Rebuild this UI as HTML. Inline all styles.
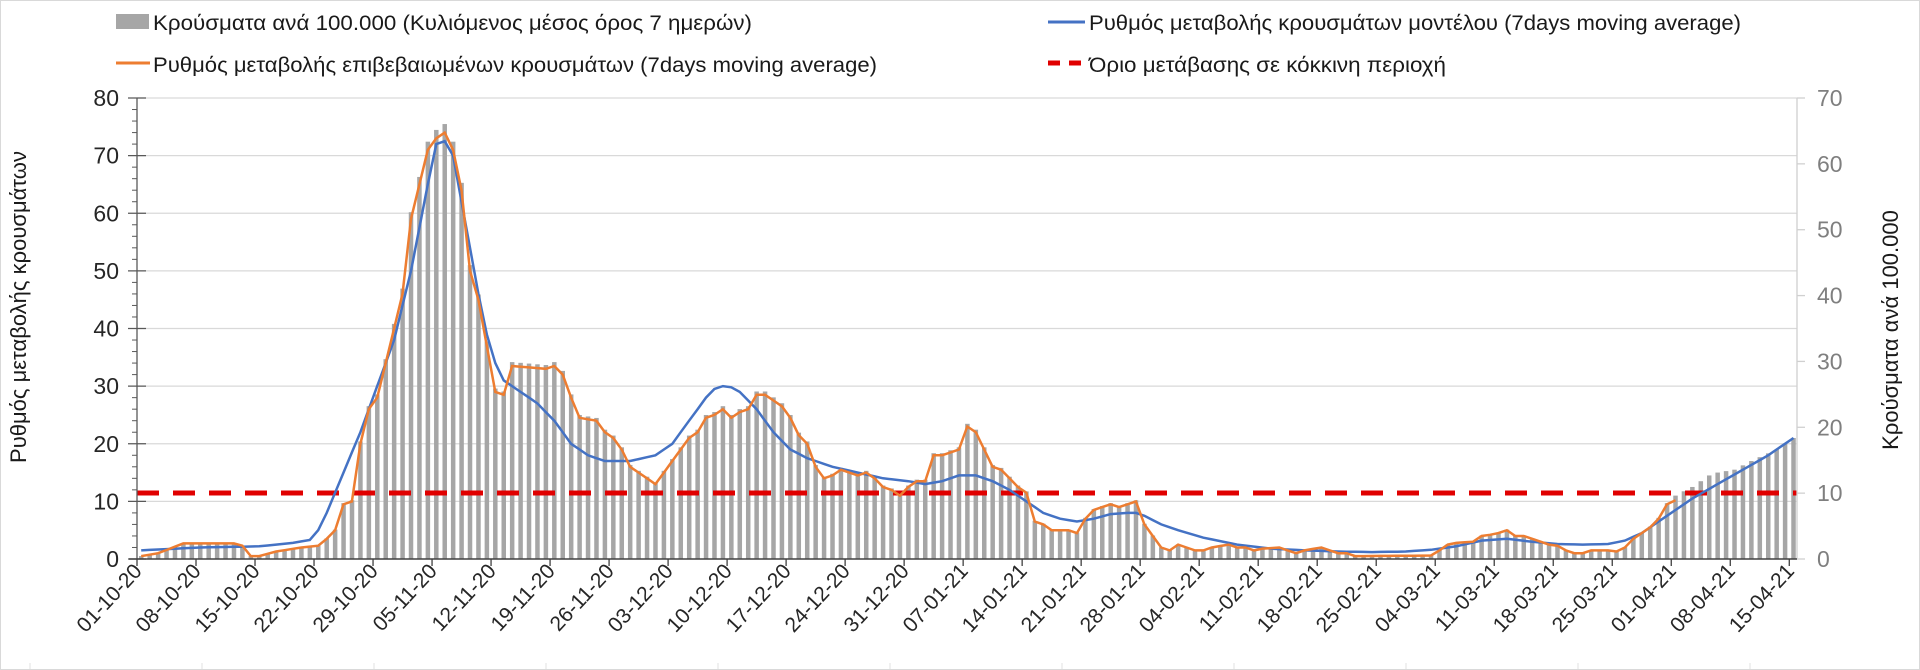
<!DOCTYPE html>
<html><head><meta charset="utf-8"><style>
html,body{margin:0;padding:0;background:#fff;}
svg{display:block;font-family:"Liberation Sans",sans-serif;}
</style></head><body>
<svg id="s" width="1920" height="670" xmlns="http://www.w3.org/2000/svg">
<rect x="0.5" y="0.5" width="1919" height="669" fill="#fff" stroke="#d9d9d9"/>
<g id="grid"></g>
<g id="bars" fill="#a6a6a6"></g>
<line x1="137" y1="493" x2="1797" y2="493" stroke="#e00000" stroke-width="5" stroke-dasharray="22,14"/>
<polyline id="blue" fill="none" stroke="#4472c4" stroke-width="2.5"/>
<polyline id="orange" fill="none" stroke="#ed7d31" stroke-width="2.5"/>
<g id="axes"></g>
<g font-size="21" fill="#1a1a1a">
<rect x="116" y="14" width="33" height="15" fill="#a6a6a6"/>
<text x="153" y="30" textLength="599" lengthAdjust="spacingAndGlyphs">Κρούσματα ανά 100.000 (Κυλιόμενος μέσος όρος 7 ημερών)</text>
<line x1="116" y1="63" x2="150" y2="63" stroke="#ed7d31" stroke-width="3"/>
<text x="153" y="72" textLength="724" lengthAdjust="spacingAndGlyphs">Ρυθμός μεταβολής επιβεβαιωμένων κρουσμάτων (7days moving average)</text>
<line x1="1048" y1="22" x2="1085" y2="22" stroke="#4472c4" stroke-width="3"/>
<text x="1089" y="30" textLength="652" lengthAdjust="spacingAndGlyphs">Ρυθμός μεταβολής κρουσμάτων μοντέλου (7days moving average)</text>
<line x1="1048" y1="63" x2="1085" y2="63" stroke="#e00000" stroke-width="5" stroke-dasharray="12,9"/>
<text x="1089" y="72" textLength="357" lengthAdjust="spacingAndGlyphs">Όριο μετάβασης σε κόκκινη περιοχή</text>
</g>
<text transform="translate(26,307) rotate(-90)" text-anchor="middle" font-size="22" fill="#1a1a1a">Ρυθμός μεταβολής κρουσμάτων</text>
<text transform="translate(1898,330) rotate(-90)" text-anchor="middle" font-size="22" fill="#1a1a1a">Κρούσματα ανά 100.000</text>
</svg>
<script>
var NS="http://www.w3.org/2000/svg";
function el(p,t,a,txt){var e=document.createElementNS(NS,t);for(var k in a)e.setAttribute(k,a[k]);if(txt!==undefined)e.textContent=txt;p.appendChild(e);return e;}
var X0=137,W=8.43,Y0=559,U=5.7625;
var off={o:0,n:31,d:61,j:92,f:123,m:151,a:182};
function D(s){return off[s[0]]+parseInt(s.slice(1))-1;}
function interp(kp){var out=[];var pts=kp.map(function(p){return[D(p[0]),p[1]];});
for(var i=0;i<pts.length-1;i++){var a=pts[i],b=pts[i+1];for(var d=a[0];d<b[0];d++){out[d]=a[1]+(b[1]-a[1])*(d-a[0])/(b[0]-a[0]);}}
var l=pts[pts.length-1];out[l[0]]=l[1];return out;}
var orange=interp([["o1",.5],["o3",1],["o6",2.7],["o12",2.7],["o13",2.3],["o14",.5],["o15",.5],["o17",1.3],["o20",2],["o22",2.3],["o23",3.5],["o24",5],["o25",9.5],["o26",10],["o27",20],["o28",26],["o29",28],["o31",40],["n1",46],["n2",59],["n3",65],["n4",71],["n5",73],["n6",74],["n7",71],["n8",64],["n9",50],["n10",45],["n11",37],["n12",29],["n13",28.5],["n14",33.5],["n18",33],["n19",33.5],["n20",32],["n21",28],["n22",24.5],["n24",24],["n25",22],["n26",21],["n27",19],["n28",16],["n29",15],["n30",14],["d1",13],["d2",15],["d3",17],["d4",19],["d5",21],["d6",22],["d7",24.5],["d8",25],["d9",26],["d10",24.5],["d11",25.5],["d12",26],["d13",28.5],["d14",28.5],["d15",27.5],["d16",26.5],["d17",24.5],["d18",21.5],["d19",20],["d20",16],["d21",14],["d22",14.5],["d23",15.5],["d24",15],["d25",14.5],["d26",15],["d27",14],["d28",12.5],["d29",12],["d30",11],["d31",12.5],["j1",13.5],["j2",13.5],["j3",18],["j4",18],["j5",18.5],["j6",19],["j7",23],["j8",22],["j9",19],["j10",16],["j11",15.5],["j12",14],["j13",12.5],["j14",11.5],["j15",6.5],["j16",6],["j17",5],["j19",5],["j20",4.5],["j21",7],["j22",8.5],["j23",9],["j24",9.5],["j25",9],["j26",9.5],["j27",10],["j28",6],["j29",4],["j30",2],["j31",1.5],["f1",2.5],["f2",2],["f3",1.5],["f4",1.5],["f5",2],["f7",2.5],["f8",2],["f9",2],["f10",1.5],["f11",1.8],["f13",2],["f14",1.5],["f15",1],["f16",1.5],["f18",2],["f19",1.5],["f20",1],["f21",1],["f22",.5],["m3",.6],["m4",1.5],["m5",2.5],["m6",2.8],["m8",3],["m9",4],["m10",4.2],["m11",4.5],["m12",5],["m13",4],["m14",4],["m15",3.5],["m16",3],["m17",2.5],["m18",2.3],["m19",1.5],["m20",1],["m21",1],["m22",1.5],["m24",1.5],["m25",1.3],["m26",2],["m27",3.5],["m28",4.5],["m29",5.5],["m30",7],["m31",9.5],["a1",10.2]]);
var blue=interp([["o1",1.5],["o8",2],["o15",2.2],["o19",2.8],["o21",3.3],["o22",5],["o23",8],["o25",15],["o27",22],["o29",30],["o31",38],["n2",50],["n4",65],["n5",72],["n6",72.5],["n7",70],["n8",62],["n9",54],["n10",46],["n11",39],["n12",34],["n13",31],["n15",29],["n17",27],["n19",24],["n21",20],["n23",18],["n25",17],["n28",17],["d1",18],["d3",20],["d5",24],["d7",28],["d8",29.5],["d9",30],["d10",29.8],["d11",29],["d13",26],["d15",22],["d17",19],["d19",17.5],["d22",16],["d25",15],["d28",14],["d31",13.5],["j2",13],["j4",13.5],["j6",14.5],["j8",14.5],["j10",13.5],["j12",12],["j14",10],["j16",8],["j18",7],["j20",6.5],["j22",7],["j24",7.8],["j26",8],["j27",8],["j28",7.5],["j30",6],["f1",5],["f4",3.7],["f8",2.5],["f12",1.8],["f16",1.5],["f20",1.3],["f24",1.2],["f28",1.3],["m3",1.6],["m6",2.2],["m9",3.2],["m12",3.5],["m15",3],["m18",2.6],["m21",2.5],["m24",2.6],["m26",3.2],["m28",4.5],["m30",6.5],["a1",8.5],["a3",10.5],["a6",13],["a9",15.5],["a12",18],["a15",21]]);
var barsA=interp([["a1",11],["a3",12.5],["a5",14.5],["a6",15],["a8",15.5],["a10",17],["a13",19],["a15",21]]);
var g=document.getElementById("grid"),b=document.getElementById("bars"),ax=document.getElementById("axes");
for(var v=10;v<=80;v+=10){var y=Y0-v*U;el(g,"line",{x1:X0,x2:1797,y1:y,y2:y,stroke:"#d9d9d9","stroke-width":1.3});}
for(var i=0;i<197;i++){var val=(i>=182?barsA[i]:(orange[i]||0)*1.02);if(!val)continue;var h=val*U;el(b,"rect",{x:X0+i*W+2,y:Y0-h,width:4.5,height:h});}
function pl(id,arr){var p=[];for(var i=0;i<arr.length;i++){if(arr[i]===undefined)continue;p.push((X0+i*W+4.2).toFixed(1)+","+(Y0-arr[i]*U).toFixed(1));}document.getElementById(id).setAttribute("points",p.join(" "));}
pl("blue",blue);pl("orange",orange);
el(ax,"line",{x1:X0,x2:X0,y1:Y0-80*U,y2:Y0,stroke:"#595959","stroke-width":1.3});
for(var v=0;v<=80;v+=2){var y=Y0-v*U;if(v%10==0){el(ax,"line",{x1:128,x2:146,y1:y,y2:y,stroke:"#595959","stroke-width":1.3});el(ax,"text",{x:119,y:y+8,"text-anchor":"end","font-size":23,fill:"#262626"},v);}else el(ax,"line",{x1:132,x2:X0,y1:y,y2:y,stroke:"#595959","stroke-width":1});}
el(ax,"line",{x1:1797,x2:1797,y1:Y0-80*U,y2:Y0,stroke:"#d0d0d0","stroke-width":1.3});
for(var v=0;v<=70;v+=10){var y=Y0-v*(80*U/70);el(ax,"line",{x1:1797,x2:1805,y1:y,y2:y,stroke:"#d0d0d0","stroke-width":1.3});el(ax,"text",{x:1817,y:y+8,"font-size":23,fill:"#7f7f7f"},v);}
el(ax,"line",{x1:X0-8,x2:1797,y1:Y0,y2:Y0,stroke:"#404040","stroke-width":1.5});
var labels=["01-10-20","08-10-20","15-10-20","22-10-20","29-10-20","05-11-20","12-11-20","19-11-20","26-11-20","03-12-20","10-12-20","17-12-20","24-12-20","31-12-20","07-01-21","14-01-21","21-01-21","28-01-21","04-02-21","11-02-21","18-02-21","25-02-21","04-03-21","11-03-21","18-03-21","25-03-21","01-04-21","08-04-21","15-04-21"];
for(var k=0;k<labels.length;k++){var x=X0+k*7*W;el(ax,"line",{x1:x,x2:x,y1:Y0,y2:Y0+7,stroke:"#404040","stroke-width":1.3});
el(ax,"text",{transform:"translate("+(x+6)+","+(Y0+13)+") rotate(-47)","text-anchor":"end","font-size":21,fill:"#262626"},labels[k]);}
for(var k=0;k<12;k++){el(ax,"line",{x1:30+k*172,x2:30+k*172,y1:663,y2:669,stroke:"#e0e0e0"});}
</script>
</body></html>
